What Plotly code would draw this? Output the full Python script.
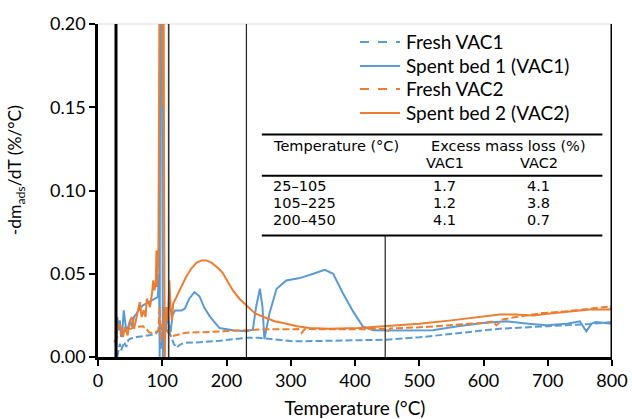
import plotly.graph_objects as go

# ---------------- data ----------------
spent2_T = [28, 30, 33, 36, 39, 42, 46, 50, 53, 56, 59, 62, 65, 68, 71, 74, 76, 79, 81, 84, 86, 88, 90, 91, 92, 94,
            96, 98, 99, 100, 101, 102, 103, 104, 105, 107, 109, 111, 113, 115, 117, 122, 130, 137, 145, 153, 161,
            169, 177, 185, 194, 202, 210, 220, 231, 245, 262, 275, 288, 310, 329, 360, 406, 448, 500, 550, 600,
            625, 650, 677, 700, 730, 765, 780, 797, 800]
spent2_v = [0.010, 0.016, 0.020, 0.017, 0.012, 0.018, 0.013, 0.022, 0.024, 0.017, 0.022, 0.027, 0.033, 0.024,
            0.028, 0.024, 0.035, 0.032, 0.030, 0.038, 0.046, 0.040, 0.045, 0.064, 0.042, 0.060,
            0.25, 0.30, 0.20, 0.30, 0.15, 0.25, 0.08, 0.0, 0.020, 0.030, 0.022, 0.046, 0.030, 0.022, 0.032,
            0.036, 0.043, 0.048, 0.053, 0.0565, 0.058, 0.058, 0.0565, 0.054, 0.0505, 0.045, 0.040, 0.035,
            0.031, 0.026, 0.0234, 0.0215, 0.0204, 0.0185, 0.0174, 0.017, 0.0174, 0.0184, 0.020, 0.022, 0.0245,
            0.0255, 0.0255, 0.025, 0.026, 0.027, 0.0285, 0.0285, 0.0285, 0.031]

spent1_T = [28, 30, 32, 34, 36, 38, 40, 42, 44, 47, 50, 53, 56, 60, 65, 70, 75, 80, 85, 90, 93, 95, 96, 97, 98,
            99, 100, 101, 102, 104, 106, 108, 110, 113, 116, 120, 130, 135, 142, 150, 158, 165, 174, 189, 210,
            231, 241, 246, 252, 256, 259, 267, 278, 293, 314, 335, 353, 366, 381, 397, 412, 428, 450, 521, 560,
            599, 636, 670, 698, 730, 750, 760, 768, 775, 790, 800]
spent1_v = [0.0, 0.024, 0.016, 0.022, 0.012, 0.016, 0.028, 0.020, 0.016, 0.018, 0.022, 0.018, 0.024, 0.026,
            0.029, 0.031, 0.032, 0.033, 0.034, 0.035, 0.036, 0.050, 0.0, 0.25, 0.30, 0.25, 0.0, 0.0, 0.030,
            0.022, 0.015, 0.030, 0.020, 0.015, 0.025, 0.028, 0.028, 0.029, 0.035, 0.039, 0.0364, 0.030, 0.0244,
            0.0174, 0.016, 0.0155, 0.0164, 0.030, 0.041, 0.030, 0.0108, 0.0264, 0.041, 0.046, 0.0474, 0.050,
            0.0524, 0.050, 0.0384, 0.0274, 0.0184, 0.016, 0.0159, 0.0161, 0.0185, 0.0204, 0.0214, 0.020, 0.019,
            0.020, 0.0214, 0.0154, 0.0199, 0.021, 0.0205, 0.020]

fresh1_T = [30, 32, 34, 36, 38, 41, 44, 47, 50, 55, 60, 70, 80, 90, 95, 97, 98, 100, 103, 106, 110, 114, 118,
            122, 128, 135, 158, 190, 231, 250, 270, 303, 340, 400, 448, 500, 550, 600, 625, 700, 765, 800]
fresh1_v = [0.0, 0.004, 0.008, 0.004, 0.006, 0.009, 0.006, 0.010, 0.011, 0.0115, 0.012, 0.0125, 0.013, 0.014,
            0.016, 0.020, 0.005, 0.012, 0.020, 0.018, 0.016, 0.012, 0.008, 0.0056, 0.0075, 0.0086, 0.0088,
            0.0098, 0.0115, 0.0115, 0.0108, 0.0094, 0.0096, 0.0100, 0.0104, 0.0118, 0.014, 0.016, 0.017,
            0.0185, 0.0198, 0.021]

fresh2_T = [25, 30, 35, 40, 50, 60, 70, 75, 80, 85, 90, 94, 96, 98, 100, 103, 106, 110, 114, 120, 137, 158,
            200, 231, 260, 300, 312, 317, 322, 360, 400, 445, 450, 455, 500, 550, 600, 615, 620, 630, 650, 692,
            730, 765, 797, 800]
fresh2_v = [0.009, 0.012, 0.014, 0.016, 0.017, 0.018, 0.0185, 0.017, 0.0146, 0.0145, 0.015, 0.016, 0.030, 0.010,
            0.020, 0.025, 0.018, 0.014, 0.0124, 0.013, 0.0146, 0.0148, 0.0156, 0.0164, 0.0166, 0.0166, 0.0168,
            0.0145, 0.0168, 0.0166, 0.0166, 0.0168, 0.0150, 0.0172, 0.0178, 0.019, 0.0205, 0.0214, 0.019,
            0.0225, 0.024, 0.0264, 0.0275, 0.029, 0.0304, 0.0305]

series_names = ["Fresh VAC1", "Spent bed 1 (VAC1)", "Fresh VAC2", "Spent bed 2 (VAC2)"]
x_ticks = [0, 100, 200, 300, 400, 500, 600, 700, 800]
y_ticks = [0.00, 0.05, 0.10, 0.15, 0.20]

# reference lines (temperature positions)
ref_T = [28, 110, 231, 447]

# table contents
table_header = ["Temperature (°C)", "Excess mass loss (%)"]
table_sub = ["VAC1", "VAC2"]
table_ranges = ["25–105", "105–225", "200–450"]
table_vac1 = ["1.7", "1.2", "4.1"]
table_vac2 = ["4.1", "3.8", "0.7"]

BLUE = "#5B9BD5"
ORANGE = "#ED7D31"
FONT = "Lato"
TFONT = "DejaVu Sans"

series = [
    (fresh1_T, fresh1_v, BLUE, "7px,3px"),
    (spent1_T, spent1_v, BLUE, "solid"),
    (fresh2_T, fresh2_v, ORANGE, "7px,3px"),
    (spent2_T, spent2_v, ORANGE, "solid"),
]

fig = go.Figure()
for (xs, ys, col, dash), nm in zip(series, series_names):
    fig.add_trace(go.Scatter(x=xs, y=ys, mode="lines", name=nm, showlegend=False,
                             line=dict(color=col, width=2, dash=dash)))

shapes = []
annotations = []
# top light border
shapes.append(dict(type="line", xref="paper", yref="paper", x0=0, x1=1, y0=1, y1=1,
                   line=dict(color="#D9D9D9", width=1.2), layer="below"))
# right border
shapes.append(dict(type="line", xref="x", yref="paper", x0=x_ticks[-1], x1=x_ticks[-1], y0=0, y1=1,
                   line=dict(color="black", width=3)))
# reference lines
shapes.append(dict(type="line", xref="x", yref="paper", x0=ref_T[0], x1=ref_T[0], y0=0, y1=1,
                   line=dict(color="black", width=3)))
shapes.append(dict(type="line", xref="x", yref="paper", x0=ref_T[1], x1=ref_T[1], y0=0, y1=1,
                   line=dict(color="#333333", width=1.6)))
shapes.append(dict(type="line", xref="x", yref="paper", x0=ref_T[2], x1=ref_T[2], y0=0, y1=1,
                   line=dict(color="#222222", width=1.2)))

# table geometry (data coordinates)
tab_x0, tab_x1 = 255, 785
tab_top, tab_mid, tab_bot = 0.1337, 0.1089, 0.0729
shapes.append(dict(type="line", xref="x", yref="y", x0=ref_T[3], x1=ref_T[3], y0=0, y1=tab_bot,
                   line=dict(color="#222222", width=1.2)))
for yy in (tab_top, tab_mid, tab_bot):
    shapes.append(dict(type="line", xref="x", yref="y", x0=tab_x0, x1=tab_x1, y0=yy, y1=yy,
                       line=dict(color="black", width=2)))

tf = dict(family=TFONT, size=14.5, color="black")
annotations.append(dict(x=270, y=0.1268, xref="x", yref="y", text=table_header[0], showarrow=False,
                        xanchor="left", yanchor="middle", font=tf))
annotations.append(dict(x=639, y=0.1268, xref="x", yref="y", text=table_header[1], showarrow=False,
                        xanchor="center", yanchor="middle", font=tf))
col_x = [540, 686]
for cx, s in zip(col_x, table_sub):
    annotations.append(dict(x=cx, y=0.1167, xref="x", yref="y", text=s, showarrow=False,
                            xanchor="center", yanchor="middle", font=tf))
row_y = [0.1029, 0.0927, 0.0825]
for ry, r, a, b in zip(row_y, table_ranges, table_vac1, table_vac2):
    annotations.append(dict(x=270, y=ry, xref="x", yref="y", text=r, showarrow=False,
                            xanchor="left", yanchor="middle", font=tf))
    annotations.append(dict(x=col_x[0], y=ry, xref="x", yref="y", text=a, showarrow=False,
                            xanchor="center", yanchor="middle", font=tf))
    annotations.append(dict(x=col_x[1], y=ry, xref="x", yref="y", text=b, showarrow=False,
                            xanchor="center", yanchor="middle", font=tf))

# legend (drawn as key lines + labels in paper coordinates)
leg_rows = [0.946, 0.874, 0.805, 0.733]
leg_x0, leg_x1, leg_tx = 0.5097, 0.5875, 0.595
for (xs, ys, col, dash), nm, ry in zip(series, series_names, leg_rows):
    shapes.append(dict(type="line", xref="paper", yref="paper", x0=leg_x0, x1=leg_x1, y0=ry, y1=ry,
                       line=dict(color=col, width=2, dash="dash" if dash != "solid" else "solid")))
    annotations.append(dict(x=leg_tx, y=ry, xref="paper", yref="paper", text=nm, showarrow=False,
                            xanchor="left", yanchor="middle", font=dict(family=FONT, size=19)))

# y-axis title
annotations.append(dict(x=-0.16, y=0.56, xref="paper", yref="paper",
                        text="-dm<sub>ads</sub>/dT (%/°C)", textangle=-90, showarrow=False,
                        xanchor="center", yanchor="middle", font=dict(family=FONT, size=17.5)))

fig.update_layout(
    width=632, height=419,
    margin=dict(l=98, r=20, t=24, b=62),
    paper_bgcolor="white", plot_bgcolor="white",
    font=dict(family=FONT, size=18, color="black"),
    showlegend=False,
    shapes=shapes, annotations=annotations,
    xaxis=dict(range=[0, 800], tickvals=x_ticks, ticktext=[str(t) for t in x_ticks],
               showgrid=False, zeroline=False, showline=True, linecolor="black", linewidth=2.5,
               ticks="outside", ticklen=6, tickwidth=2, tickcolor="black",
               tickfont=dict(size=18),
               title=dict(text="Temperature (°C)", standoff=12, font=dict(size=19)),
               automargin=False),
    yaxis=dict(range=[0, 0.2], tickvals=y_ticks, ticktext=[f"{t:.2f}" for t in y_ticks],
               showgrid=False, zeroline=False, showline=True, linecolor="black", linewidth=2.5,
               ticks="outside", ticklen=6, tickwidth=2, tickcolor="black",
               tickfont=dict(size=18),
               automargin=False),
)

fig.write_html("out.html")
